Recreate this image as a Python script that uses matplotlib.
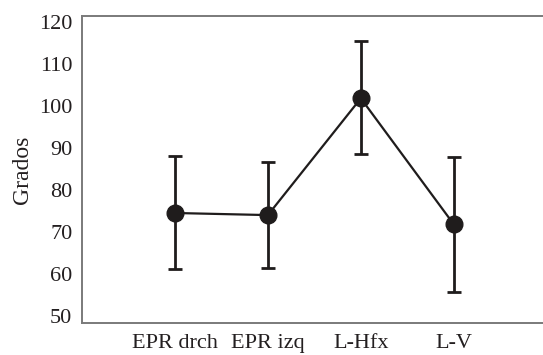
import matplotlib
matplotlib.use("Agg")
import matplotlib.pyplot as plt

categories = ["EPR drch", "EPR izq", "L-Hfx", "L-V"]
means = [74.5, 74.0, 101.8, 71.8]
upper = [88.0, 86.7, 115.5, 87.8]
lower = [61.2, 61.4, 88.5, 55.8]

err_low = [m - l for m, l in zip(means, lower)]
err_high = [u - m for u, m in zip(upper, means)]

plt.rcParams['font.family'] = ['Liberation Serif', 'DejaVu Serif']

fig = plt.figure(figsize=(5.43, 3.55), dpi=100)
ax = fig.add_axes([0.151, 0.090, 0.849, 0.865])

x = list(range(len(categories)))
ax.errorbar(x, means, yerr=[err_low, err_high], fmt='o-', color='#1f1c1c',
            ecolor='#1f1c1c', elinewidth=2.0, capsize=5, capthick=2.0,
            markersize=12, linewidth=1.6)

ax.set_xlim(-1.0, 3.96)
ax.set_ylim(48.3, 121.4)
ax.set_yticks(range(50, 121, 10))
ax.set_xticks(x)
ax.set_xticklabels(categories)
ax.set_ylabel("Grados", fontsize=17, color='#231f20', labelpad=4)

ax.tick_params(axis='both', length=0, labelsize=16, labelcolor='#231f20')
ax.tick_params(axis='y', pad=7)
ax.tick_params(axis='x', pad=8)

ax.spines['right'].set_visible(False)
for s in ['left', 'top', 'bottom']:
    ax.spines[s].set_color('#7a7a7a')
    ax.spines[s].set_linewidth(1.4)

fig.savefig("out.png", dpi=100)
